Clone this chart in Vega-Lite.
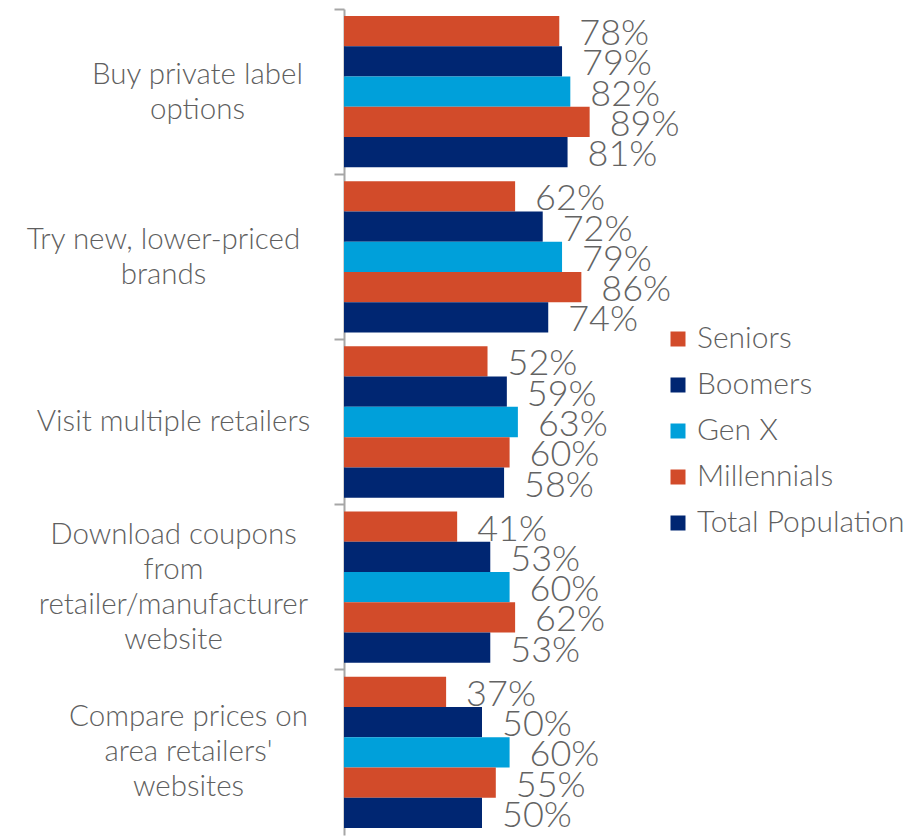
{
  "$schema": "https://vega.github.io/schema/vega-lite/v6.json",
  "autosize": {"type": "none"},
  "padding": {"left": 344, "top": 9, "right": 304, "bottom": 1},
  "width": 276,
  "height": 826,
  "background": "white",
  "config": {"view": {"stroke": null}, "font": "Lato"},
  "data": {
    "values": [
      {"Category": "Buy private label|options", "Group": "Seniors", "v": 0.78},
      {"Category": "Buy private label|options", "Group": "Boomers", "v": 0.79},
      {"Category": "Buy private label|options", "Group": "Gen X", "v": 0.82},
      {"Category": "Buy private label|options", "Group": "Millennials", "v": 0.89},
      {"Category": "Buy private label|options", "Group": "Total Population", "v": 0.81},
      {"Category": "Try new, lower-priced|brands", "Group": "Seniors", "v": 0.62},
      {"Category": "Try new, lower-priced|brands", "Group": "Boomers", "v": 0.72},
      {"Category": "Try new, lower-priced|brands", "Group": "Gen X", "v": 0.79},
      {"Category": "Try new, lower-priced|brands", "Group": "Millennials", "v": 0.86},
      {"Category": "Try new, lower-priced|brands", "Group": "Total Population", "v": 0.74},
      {"Category": "Visit multiple retailers", "Group": "Seniors", "v": 0.52},
      {"Category": "Visit multiple retailers", "Group": "Boomers", "v": 0.59},
      {"Category": "Visit multiple retailers", "Group": "Gen X", "v": 0.63},
      {"Category": "Visit multiple retailers", "Group": "Millennials", "v": 0.60},
      {"Category": "Visit multiple retailers", "Group": "Total Population", "v": 0.58},
      {"Category": "Download coupons|from|retailer/manufacturer|website", "Group": "Seniors", "v": 0.41},
      {"Category": "Download coupons|from|retailer/manufacturer|website", "Group": "Boomers", "v": 0.53},
      {"Category": "Download coupons|from|retailer/manufacturer|website", "Group": "Gen X", "v": 0.60},
      {"Category": "Download coupons|from|retailer/manufacturer|website", "Group": "Millennials", "v": 0.62},
      {"Category": "Download coupons|from|retailer/manufacturer|website", "Group": "Total Population", "v": 0.53},
      {"Category": "Compare prices on|area retailers'|websites", "Group": "Seniors", "v": 0.37},
      {"Category": "Compare prices on|area retailers'|websites", "Group": "Boomers", "v": 0.50},
      {"Category": "Compare prices on|area retailers'|websites", "Group": "Gen X", "v": 0.60},
      {"Category": "Compare prices on|area retailers'|websites", "Group": "Millennials", "v": 0.55},
      {"Category": "Compare prices on|area retailers'|websites", "Group": "Total Population", "v": 0.50}
    ]
  },
  "encoding": {
    "x": {"field": "v", "type": "quantitative", "scale": {"domain": [0, 1]}, "axis": null},
    "yOffset": {
      "field": "Group",
      "type": "nominal",
      "sort": ["Seniors", "Boomers", "Gen X", "Millennials", "Total Population"],
      "scale": {"paddingInner": 0, "paddingOuter": 0.23}
    }
  },
  "layer": [
    {
      "mark": {"type": "bar"},
      "encoding": {
        "y": {
          "field": "Category",
          "type": "nominal",
          "sort": null,
          "scale": {"paddingInner": 0, "paddingOuter": 0},
          "axis": {
            "orient": "left",
            "title": null,
            "domain": false,
            "ticks": false,
            "tickSize": 0,
            "labelAlign": "center",
            "labelBaseline": "middle",
            "labelPadding": {
              "condition": [
                {"test": "indexof(datum.value, 'Buy private') == 0", "value": 147},
                {"test": "indexof(datum.value, 'Try new') == 0", "value": 181},
                {"test": "indexof(datum.value, 'Compare') == 0", "value": 156}
              ],
              "value": 171
            },
            "labelOffset": {
              "condition": [
                {"test": "indexof(datum.value, 'Download') == 0", "value": -52},
                {"test": "indexof(datum.value, 'Compare') == 0", "value": -35},
                {"test": "indexof(datum.value, 'Visit') == 0", "value": 0}
              ],
              "value": -17
            },
            "labelFont": "Lato",
            "labelFontWeight": 300,
            "labelFontSize": 29.5,
            "labelColor": "#5f5f5f",
            "labelLineHeight": 35,
            "labelLimit": 500,
            "labelOverlap": false,
            "labelBound": false,
            "labelExpr": "split(datum.value, '|')"
          }
        },
        "color": {
          "field": "Group",
          "type": "nominal",
          "sort": ["Seniors", "Boomers", "Gen X", "Millennials", "Total Population"],
          "scale": {
            "domain": ["Seniors", "Boomers", "Gen X", "Millennials", "Total Population"],
            "range": ["#D24B2A", "#002672", "#00A0DA", "#D24B2A", "#002672"]
          },
          "legend": {
            "orient": "none",
            "legendX": 319,
            "legendY": 315,
            "title": null,
            "padding": 0,
            "symbolType": "square",
            "symbolSize": 225,
            "symbolStrokeWidth": 0,
            "labelFont": "Lato",
            "labelFontWeight": 300,
            "labelFontSize": 30,
            "labelColor": "#5f5f5f",
            "labelOffset": 4,
            "labelLimit": 400,
            "rowPadding": 16
          }
        }
      }
    },
    {
      "mark": {"type": "text", "align": "left", "baseline": "middle", "dx": 20, "dy": 3, "fontSize": 36, "font": "Lato", "fontWeight": 300, "color": "#636363"},
      "encoding": {
        "y": {
          "field": "Category",
          "type": "nominal",
          "sort": null,
          "axis": {
            "orient": "left",
            "title": null,
            "labels": false,
            "domain": true,
            "domainColor": "#A6A6A6",
            "domainWidth": 2,
            "ticks": true,
            "tickSize": 10,
            "tickWidth": 2,
            "tickColor": "#A6A6A6",
            "bandPosition": 0
          }
        },
        "text": {"field": "v", "type": "quantitative", "format": ".0%"}
      }
    }
  ],
  "resolve": {"axis": {"y": "independent"}}
}
